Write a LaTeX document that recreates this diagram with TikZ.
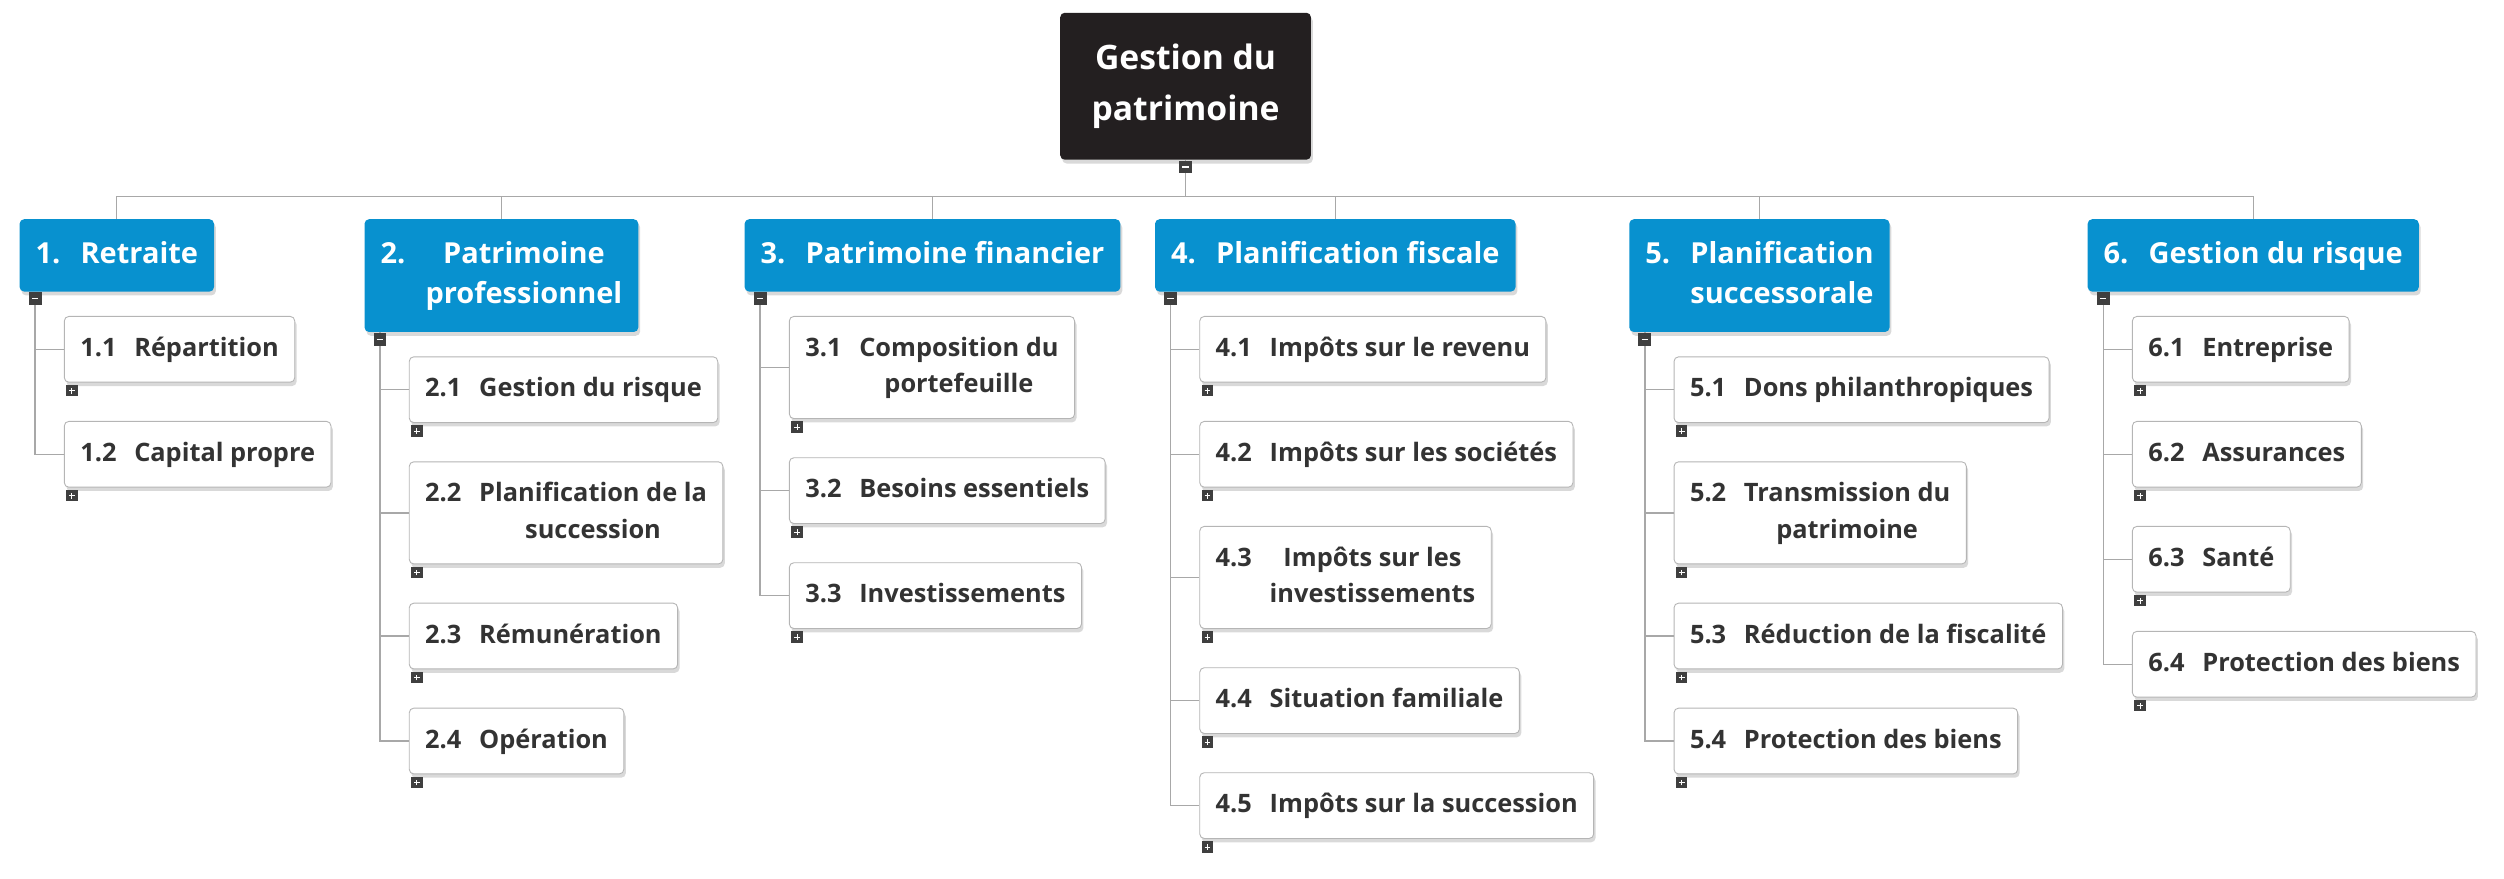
\documentclass[tikz,border=0pt]{standalone}
\usepackage{fontspec}
\setmainfont{Open Sans}
\usetikzlibrary{positioning, shadows}
\definecolor{rootcolor}{HTML}{231F20}
\definecolor{catcolor}{HTML}{0891CF}
\definecolor{itemline}{HTML}{B5B5B5}
\definecolor{linkcolor}{HTML}{A8A8A8}
\definecolor{togcolor}{HTML}{3F3F3F}
\definecolor{txtcolor}{HTML}{333333}
\newcommand{\nlbl}[2]{#1\hspace{0.7em}\begin{tabular}[t]{@{}c@{}}#2\end{tabular}}

\begin{document}
\begin{tikzpicture}[
    soft/.style={drop shadow={shadow xshift=0.03cm, shadow yshift=-0.06cm, opacity=0.15, fill=black}},
    root/.style={rectangle, rounded corners=2pt, fill=rootcolor, text=white, minimum width=3.925cm, minimum height=2.3cm, align=center, font=\fontsize{15}{22.5}\selectfont\bfseries, soft},
    cat/.style={rectangle, rounded corners=2pt, fill=catcolor, text=white, inner xsep=0.25cm, inner ysep=0.25cm, anchor=north west, font=\fontsize{12.9}{18}\selectfont\bfseries, soft},
    item/.style={rectangle, rounded corners=2pt, draw=itemline, fill=white, text=txtcolor, inner xsep=0.25cm, inner ysep=0.23cm, font=\fontsize{11.3}{16.2}\selectfont\bfseries, soft},
    link/.style={draw=linkcolor, line width=0.6pt},
    tog/.style={fill=togcolor, minimum size=0.2cm, inner sep=0pt},
    minus/.style={tog, anchor=north, path picture={\draw[white, line width=0.5pt] ([xshift=-0.05cm]path picture bounding box.center) -- ([xshift=0.05cm]path picture bounding box.center);}},
    plus/.style={tog, minimum size=0.18cm, anchor=north west, path picture={\draw[white, line width=0.45pt] ([xshift=-0.045cm]path picture bounding box.center) -- ([xshift=0.045cm]path picture bounding box.center) ([yshift=-0.045cm]path picture bounding box.center) -- ([yshift=0.045cm]path picture bounding box.center);}},
  ]
    \useasboundingbox (0,0) rectangle (39.2,-13.75);
    \coordinate (bus) at (0,-3.075);

    % root and main branches
    \node[root] (G) at (18.56,-1.35) {Gestion du\\patrimoine};
    \node[cat] (P1) at (0.3,-3.425) {\nlbl{1.}{Retraite}};
    \node[cat] (P2) at (5.7,-3.425) {\nlbl{2.}{Patrimoine\\professionnel}};
    \node[cat] (P3) at (11.65,-3.425) {\nlbl{3.}{Patrimoine financier}};
    \node[cat] (P4) at (18.075,-3.425) {\nlbl{4.}{Planification fiscale}};
    \node[cat] (P5) at (25.5,-3.425) {\nlbl{5.}{Planification\\successorale}};
    \node[cat] (P6) at (32.675,-3.425) {\nlbl{6.}{Gestion du risque}};

    \draw[link] (G.south) -- (G.south |- bus);
    \draw[link] (P1.north) |- (bus -| P6.north) -- (P6.north);
    \foreach \p in {P2,P3,P4,P5} \draw[link] (\p.north) -- (\p.north |- bus);

    % 1
    \node[item, below=0.375cm of P1.south west, xshift=0.7cm, anchor=north west] (c11) {\nlbl{1.1}{Répartition}};
    \node[item, below=0.6cm of c11.south west, anchor=north west] (c12) {\nlbl{1.2}{Capital propre}};

    % 2
    \node[item, below=0.375cm of P2.south west, xshift=0.7cm, anchor=north west] (c21) {\nlbl{2.1}{Gestion du risque}};
    \node[item, below=0.6cm of c21.south west, anchor=north west] (c22) {\nlbl{2.2}{Planification de la\\succession}};
    \node[item, below=0.6cm of c22.south west, anchor=north west] (c23) {\nlbl{2.3}{Rémunération}};
    \node[item, below=0.6cm of c23.south west, anchor=north west] (c24) {\nlbl{2.4}{Opération}};

    % 3
    \node[item, below=0.375cm of P3.south west, xshift=0.7cm, anchor=north west] (c31) {\nlbl{3.1}{Composition du\\portefeuille}};
    \node[item, below=0.6cm of c31.south west, anchor=north west] (c32) {\nlbl{3.2}{Besoins essentiels}};
    \node[item, below=0.6cm of c32.south west, anchor=north west] (c33) {\nlbl{3.3}{Investissements}};

    % 4
    \node[item, below=0.375cm of P4.south west, xshift=0.7cm, anchor=north west] (c41) {\nlbl{4.1}{Impôts sur le revenu}};
    \node[item, below=0.6cm of c41.south west, anchor=north west] (c42) {\nlbl{4.2}{Impôts sur les sociétés}};
    \node[item, below=0.6cm of c42.south west, anchor=north west] (c43) {\nlbl{4.3}{Impôts sur les\\investissements}};
    \node[item, below=0.6cm of c43.south west, anchor=north west] (c44) {\nlbl{4.4}{Situation familiale}};
    \node[item, below=0.6cm of c44.south west, anchor=north west] (c45) {\nlbl{4.5}{Impôts sur la succession}};

    % 5
    \node[item, below=0.375cm of P5.south west, xshift=0.7cm, anchor=north west] (c51) {\nlbl{5.1}{Dons philanthropiques}};
    \node[item, below=0.6cm of c51.south west, anchor=north west] (c52) {\nlbl{5.2}{Transmission du\\patrimoine}};
    \node[item, below=0.6cm of c52.south west, anchor=north west] (c53) {\nlbl{5.3}{Réduction de la fiscalité}};
    \node[item, below=0.6cm of c53.south west, anchor=north west] (c54) {\nlbl{5.4}{Protection des biens}};

    % 6
    \node[item, below=0.375cm of P6.south west, xshift=0.7cm, anchor=north west] (c61) {\nlbl{6.1}{Entreprise}};
    \node[item, below=0.6cm of c61.south west, anchor=north west] (c62) {\nlbl{6.2}{Assurances}};
    \node[item, below=0.6cm of c62.south west, anchor=north west] (c63) {\nlbl{6.3}{Santé}};
    \node[item, below=0.6cm of c63.south west, anchor=north west] (c64) {\nlbl{6.4}{Protection des biens}};

    % tree lines to the children
    \coordinate (t1) at ([xshift=0.25cm]P1.south west);
    \coordinate (t2) at ([xshift=0.25cm]P2.south west);
    \coordinate (t3) at ([xshift=0.25cm]P3.south west);
    \coordinate (t4) at ([xshift=0.25cm]P4.south west);
    \coordinate (t5) at ([xshift=0.25cm]P5.south west);
    \coordinate (t6) at ([xshift=0.25cm]P6.south west);
    \foreach \c in {c11,c12} \draw[link] (t1) |- (\c.west);
    \foreach \c in {c21,c22,c23,c24} \draw[link] (t2) |- (\c.west);
    \foreach \c in {c31,c32,c33} \draw[link] (t3) |- (\c.west);
    \foreach \c in {c41,c42,c43,c44,c45} \draw[link] (t4) |- (\c.west);
    \foreach \c in {c51,c52,c53,c54} \draw[link] (t5) |- (\c.west);
    \foreach \c in {c61,c62,c63,c64} \draw[link] (t6) |- (\c.west);

    % collapse / expand boxes
    \node[minus] (m0) at (G.south) {};
    \foreach \i in {1,...,6} \node[minus] (m\i) at (t\i) {};
    \foreach \c in {c11,c12,c21,c22,c23,c24,c31,c32,c33,c41,c42,c43,c44,c45,c51,c52,c53,c54,c61,c62,c63,c64}
      \node[plus] (\c-p) at ([xshift=0.03cm, yshift=-0.03cm]\c.south west) {};
\end{tikzpicture}
\end{document}
